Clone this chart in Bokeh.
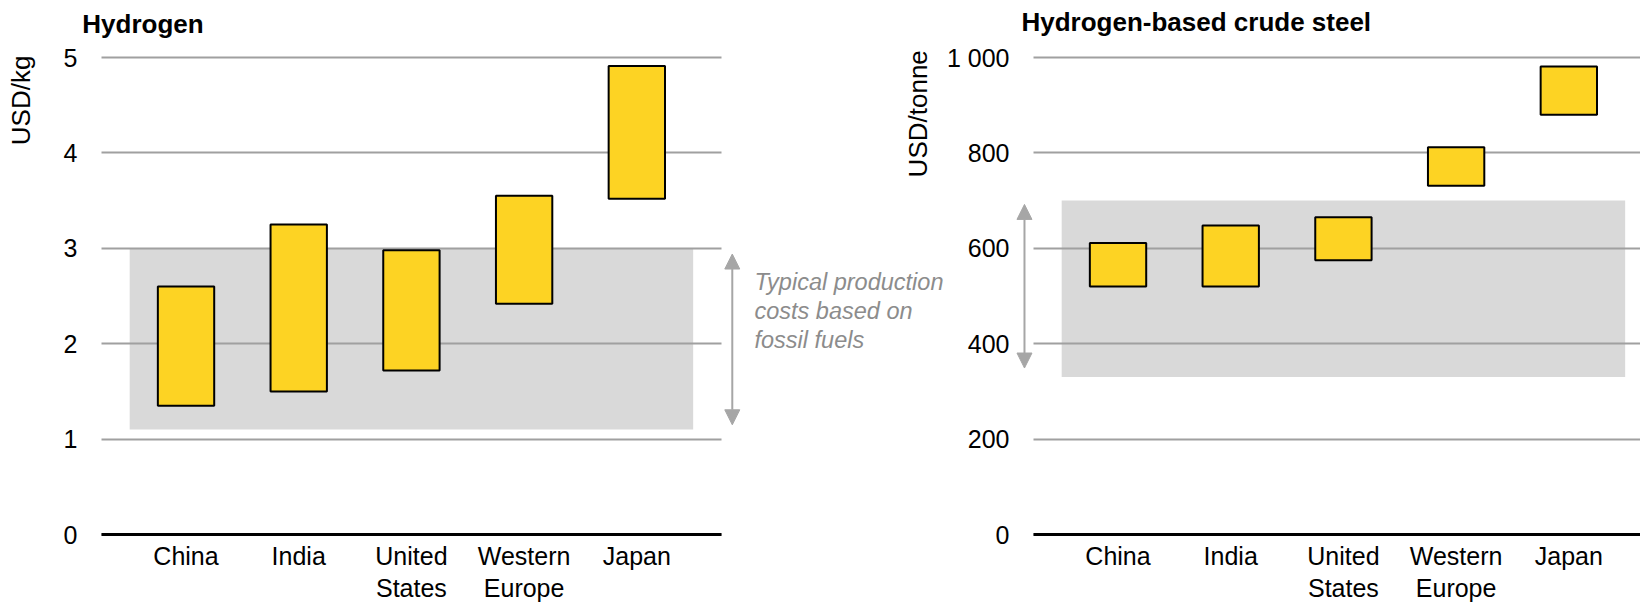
from bokeh.plotting import figure
from bokeh.layouts import row
from bokeh.models import FixedTicker, Label, Arrow, NormalHead, Range1d, ColumnDataSource
from bokeh.embed import file_html
from bokeh.resources import INLINE

# Levelised cost ranges by region
regions = ["China", "India", "United\nStates", "Western\nEurope", "Japan"]

h2_low = [1.35, 1.50, 1.72, 2.42, 3.52]      # USD/kg
h2_high = [2.60, 3.25, 2.98, 3.55, 4.91]

steel_low = [520, 520, 575, 731, 880]        # USD/tonne
steel_high = [611, 648, 665, 812, 981]

# Range of typical fossil-based production costs
h2_fossil = [1.1, 3.0]
steel_fossil = [330, 700]
h2_fossil_arrow = [1.15, 2.94]
steel_fossil_arrow = [349, 692]

h2_ticks = [0, 1, 2, 3, 4, 5]
steel_ticks = [0, 200, 400, 600, 800, 1000]
steel_tick_labels = ["0", "200", "400", "600", "800", "1 000"]

FONT = "Liberation Sans"
BAR_FILL = "#FDD323"
BAND_FILL = "#D9D9D9"
GRID = "#A0A0A0"
NOTE_GREY = "#8C8C8C"
ARROW_GREY = "#A6A6A6"

HEIGHT = 602
ZERO_PX = 534          # distance of the zero line from the top of the canvas
STEP = 112.7           # pixels between neighbouring regions
PX_PER_UNIT = 95.4     # pixels per USD/kg; the steel panel uses 200 USD/t for the same

xs = list(range(len(regions)))


def make_panel(low, high, band, ppu, ticks, tick_labels, width, axis_px, x_stop):
    """axis_px: pixel offset of the value axis from the left edge of the canvas."""
    src = ColumnDataSource(dict(x=xs, low=low, high=high))
    x0 = -0.75 - axis_px / STEP
    p = figure(width=width, height=HEIGHT, output_backend="svg", toolbar_location=None,
               x_range=Range1d(x0, x0 + width / STEP),
               y_range=Range1d(-(HEIGHT - ZERO_PX) / ppu, ZERO_PX / ppu),
               min_border=0)
    p.outline_line_color = None
    p.background_fill_color = "white"
    p.border_fill_color = "white"

    # shaded band of fossil-based costs, beneath the grid lines
    shade = p.quad(left=-0.5, right=len(regions) - 0.5, bottom=band[0], top=band[1],
                   fill_color=BAND_FILL, line_color=None)
    shade.level = "image"

    p.vbar(x="x", width=0.5, bottom="low", top="high", source=src,
           fill_color=BAR_FILL, line_color="black", line_width=2)

    p.xgrid.visible = False
    p.ygrid.ticker = FixedTicker(ticks=ticks)
    p.ygrid.grid_line_color = GRID
    p.ygrid.grid_line_width = 2
    p.ygrid.cross_bounds = (-0.75, x_stop)

    # category axis drawn along the zero line
    xa = p.xaxis[0]
    xa.fixed_location = 0
    xa.ticker = FixedTicker(ticks=xs)
    xa.bounds = (-0.75, x_stop)
    xa.major_label_overrides = {i: r for i, r in zip(xs, regions)}
    xa.axis_line_color = "black"
    xa.axis_line_width = 3
    xa.major_tick_line_color = None
    xa.major_tick_out = 0
    xa.major_tick_in = 0
    xa.minor_tick_line_color = None
    xa.minor_tick_out = 0
    xa.major_label_standoff = 7
    xa.major_label_text_font = FONT
    xa.major_label_text_font_size = "25px"
    xa.major_label_text_color = "black"
    xa.major_label_text_line_height = 1.15

    ya = p.yaxis[0]
    ya.fixed_location = -0.75
    ya.ticker = FixedTicker(ticks=ticks)
    ya.major_label_overrides = {t: l for t, l in zip(ticks, tick_labels)}
    ya.axis_line_color = None
    ya.major_tick_line_color = None
    ya.major_tick_out = 0
    ya.minor_tick_line_color = None
    ya.minor_tick_out = 0
    ya.major_label_standoff = 24
    ya.major_label_text_font = FONT
    ya.major_label_text_font_size = "25px"
    ya.major_label_text_color = "black"
    return p


left = make_panel(h2_low, h2_high, h2_fossil, PX_PER_UNIT, h2_ticks,
                  [str(t) for t in h2_ticks], 945, 101, 4.75)
right = make_panel(steel_low, steel_high, steel_fossil, PX_PER_UNIT / 200, steel_ticks,
                   steel_tick_labels, 695, 88, 5.0)


def text(p, x, y, s, size="25px", style="normal", color="black", angle=0.0,
         align="left", baseline="alphabetic", line_height=1.2):
    p.add_layout(Label(x=x, y=y, text=s, angle=angle, text_align=align,
                       text_baseline=baseline, text_line_height=line_height,
                       text_font=FONT, text_font_size=size, text_font_style=style,
                       text_color=color))


def double_arrow(p, x, lo, hi):
    head = dict(size=15, fill_color=ARROW_GREY, line_color=ARROW_GREY)
    p.add_layout(Arrow(x_start=x, y_start=lo, x_end=x, y_end=hi,
                       line_color=ARROW_GREY, line_width=2,
                       start=NormalHead(**head), end=NormalHead(**head)))


# panel titles
text(left, -0.92, 5.356, "Hydrogen", size="26px", style="bold")
text(right, -0.857, 1074, "Hydrogen-based crude steel", size="26px", style="bold")

# unit labels, set vertically near the top of each value axis
text(left, -1.46, 4.55, "USD/kg", size="26px", angle=1.5708, align="center")
text(left, 6.495, 4.41, "USD/tonne", size="26px", angle=1.5708, align="center")

# fossil-fuel cost ranges
double_arrow(left, 4.847, h2_fossil_arrow[0], h2_fossil_arrow[1])
double_arrow(right, -0.83, steel_fossil_arrow[0], steel_fossil_arrow[1])
text(left, 5.044, 2.78, "Typical production\ncosts based on\nfossil fuels", size="23.5px",
     style="italic", color=NOTE_GREY, baseline="top", line_height=1.11)

layout = row(left, right)
open("out.html", "w").write(file_html(layout, INLINE))
